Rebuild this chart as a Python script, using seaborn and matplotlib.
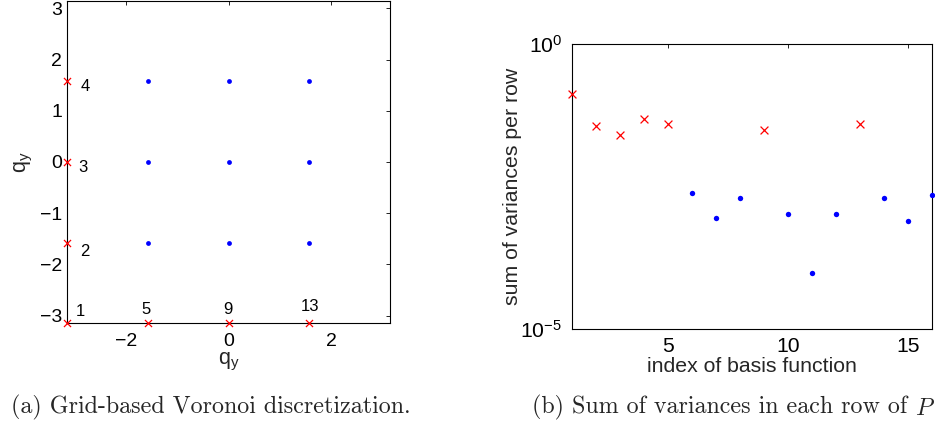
import numpy as np
import pandas as pd
import matplotlib
matplotlib.use("Agg")
import matplotlib.pyplot as plt
import matplotlib.ticker as mticker
from matplotlib.text import Annotation
import seaborn as sns

# ---------------- data ----------------
# (a) grid of Voronoi centres
blue_x = [-1.571, -1.571, -1.571, 0.0, 0.0, 0.0, 1.571, 1.571, 1.571]
blue_y = [-1.571, 0.0, 1.571, -1.571, 0.0, 1.571, -1.571, 0.0, 1.571]
red_x = [-3.1416, -3.1416, -3.1416, -3.1416, -1.571, 0.0, 1.571]
red_y = [-3.1416, -1.571, 0.0, 1.571, -3.1416, -3.1416, -3.1416]
red_labels = ["1", "2", "3", "4", "5", "9", "13"]
grid_xticks = [-2, 0, 2]
grid_yticks = [-3, -2, -1, 0, 1, 2, 3]

# (b) sum of variances per row
basis_index = list(range(1, 17))
variance_sum = [0.133, 0.0374, 0.0253, 0.0483, 0.0395, 0.0024, 0.000897, 0.00201,
                0.031, 0.00105, 9.5e-5, 0.00104, 0.0406, 0.00200, 0.000785, 0.00227]
basis_kind = ["boundary", "boundary", "boundary", "boundary", "boundary", "interior",
              "interior", "interior", "boundary", "interior", "interior", "interior",
              "boundary", "interior", "interior", "interior"]
var_xticks = [5, 10, 15]

caption_a = "(a) Grid-based Voronoi discretization."
caption_b = "(b) Sum of variances in each row of "

# ---------------- style ----------------
sns.set_theme(style="white")
plt.rcParams["font.family"] = ["Liberation Sans", "DejaVu Sans"]
plt.rcParams["mathtext.fontset"] = "custom"
plt.rcParams["mathtext.rm"] = "Liberation Sans"
plt.rcParams["mathtext.it"] = "Liberation Sans:italic"
plt.rcParams["mathtext.bf"] = "Liberation Sans:bold"

W, H = 935, 430
fig = plt.figure(figsize=(W / 100, H / 100), dpi=100)
fig.patch.set_facecolor("white")

def px_axes(l, t, r, b):
    return fig.add_axes([l / W, 1 - b / H, (r - l) / W, (b - t) / H])

ax1 = px_axes(67, 1, 390, 323)
ax2 = px_axes(572, 44.3, 932, 329)

def matlab_box(ax, size, xpad, ypad):
    for s in ax.spines.values():
        s.set_visible(True)
        s.set_color("black")
        s.set_linewidth(0.8)
    ax.tick_params(direction="in", which="both", top=True, right=True,
                   length=2.8, width=0.6, colors="black", labelsize=size)
    ax.tick_params(axis="x", pad=xpad)
    ax.tick_params(axis="y", pad=ypad)
    ax.tick_params(which="minor", length=0)
    ax.set_facecolor("white")
    ax.grid(False)

# ---------------- (a) ----------------
df_blue = pd.DataFrame({"x": blue_x, "y": blue_y})
df_red = pd.DataFrame({"x": red_x, "y": red_y, "lab": red_labels})
sns.scatterplot(data=df_blue, x="x", y="y", ax=ax1, color=(0, 0, 1), marker="o",
                s=12, linewidth=0, clip_on=False, zorder=5)
sns.scatterplot(data=df_red, x="x", y="y", ax=ax1, color=(1, 0, 0), marker="x",
                s=26, linewidth=0.9, clip_on=False, zorder=5)
ax1.set_xlim(-np.pi, np.pi)
ax1.set_ylim(-np.pi, np.pi)
ax1.set_xticks(grid_xticks)
ax1.set_yticks(grid_yticks)
matlab_box(ax1, 14, 7.5, 3.6)

# label offsets in pixels (dx right, dy down)
label_off = {"1": (13, -12), "2": (18, 9), "3": (16, 5), "4": (18, 5),
             "5": (-2, -14), "9": (-1, -14), "13": (1, -17)}
for xv, yv, lab in zip(red_x, red_y, red_labels):
    dx, dy = label_off[lab]
    ax1.annotate(lab, (xv, yv), xytext=(dx * 0.72, -dy * 0.72), textcoords="offset points",
                 ha="center", va="center", fontsize=12, color="black",
                 annotation_clip=False)

ax1.set_xlabel("q$_\\mathregular{y}$", fontsize=15.5)
ax1.set_ylabel("q$_\\mathregular{y}$", fontsize=15.5)
ax1.xaxis.set_label_coords(0.5, -0.088)
ax1.yaxis.set_label_coords(-0.099, 0.5)

# ---------------- (b) ----------------
df_var = pd.DataFrame({"idx": basis_index, "val": variance_sum, "kind": basis_kind})
sns.scatterplot(data=df_var[df_var.kind == "boundary"], x="idx", y="val", ax=ax2,
                color=(1, 0, 0), marker="x", s=32, linewidth=0.9, clip_on=False, zorder=5)
sns.scatterplot(data=df_var[df_var.kind == "interior"], x="idx", y="val", ax=ax2,
                color=(0, 0, 1), marker="o", s=15, linewidth=0, clip_on=False, zorder=5)
ax2.set_yscale("log")
ax2.set_xlim(1, 16)
ax2.set_ylim(1e-5, 1e0)
ax2.set_xticks(var_xticks)
ax2.yaxis.set_major_locator(mticker.FixedLocator([1e-5, 1e0]))
ax2.yaxis.set_major_formatter(mticker.LogFormatterSciNotation())
ax2.yaxis.set_minor_locator(mticker.NullLocator())
matlab_box(ax2, 15.2, 5.5, 7)
ax2.set_xlabel("index of basis function", fontsize=15.3)
ax2.set_ylabel("sum of variances per row", fontsize=15.3)
ax2.xaxis.set_label_coords(0.5, -0.1)
ax2.yaxis.set_label_coords(-0.139, 0.5)

# ---------------- captions ----------------
fig.text(211 / W, 1 - 407 / H, caption_a, ha="center", va="center",
         fontsize=17.3, family="cmr10")
tb = fig.text(532 / W, 1 - 407 / H, caption_b, ha="left", va="center",
              fontsize=17.3, family="cmr10")
fig.add_artist(Annotation("P", xy=(1, 0), xycoords=tb, xytext=(0, 0),
                          textcoords="offset points", ha="left", va="bottom",
                          fontsize=17.3, family="cmmi10"))

fig.savefig("out.png", dpi=100, facecolor="white")
